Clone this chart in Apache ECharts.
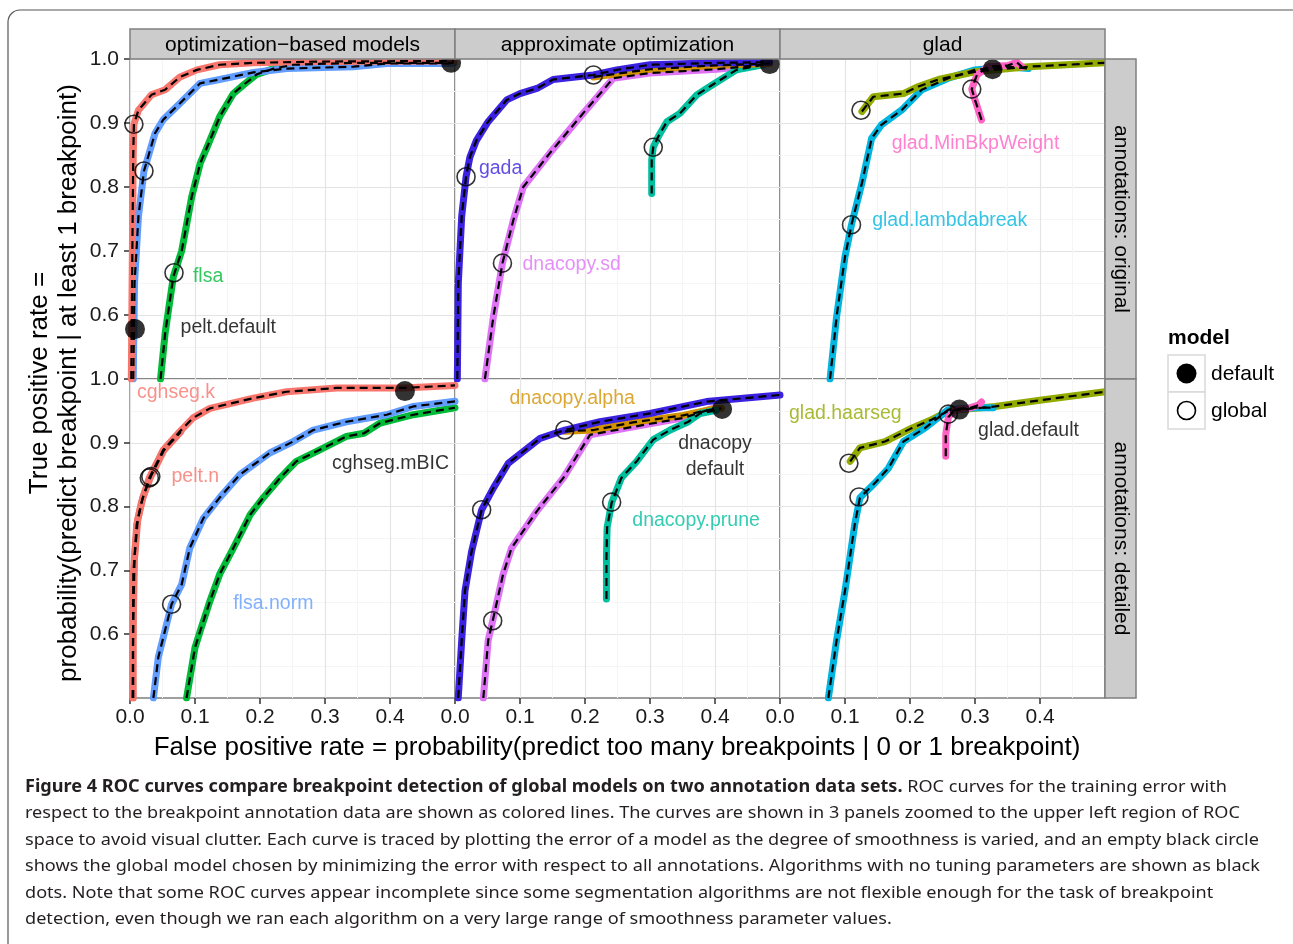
<!DOCTYPE html>
<html>
<head>
<meta charset="utf-8">
<script src="https://cdn.jsdelivr.net/npm/echarts@6/dist/echarts.min.js"></script>
<style>
html, body { margin: 0; padding: 0; background: #fff; }
#main { width: 1293px; height: 944px; }
</style>
</head>
<body>
<div id="main"></div>
<script>
var chart = echarts.init(document.getElementById('main'));

var colTitles = ['optimization\u2212based models', 'approximate optimization', 'glad'];
var rowTitles = ['annotations: original', 'annotations: detailed'];
var xTickValues = [0, 0.1, 0.2, 0.3, 0.4];
var yTickValues = [0.6, 0.7, 0.8, 0.9, 1.0];

// ---- annotations: original ----
var origCghsegK = [[0.002,0.50],[0.003,0.62],[0.004,0.74],[0.005,0.85],[0.006,0.898],[0.013,0.920],[0.033,0.944],[0.054,0.952],[0.077,0.972],[0.103,0.983],[0.138,0.991],[0.190,0.994],[0.292,0.996],[0.498,0.997]];
var origFlsaNorm = [[0.005,0.50],[0.007,0.65],[0.013,0.754],[0.0215,0.825],[0.0385,0.884],[0.051,0.905],[0.077,0.931],[0.108,0.962],[0.138,0.968],[0.190,0.979],[0.241,0.985],[0.344,0.988],[0.395,0.993],[0.495,0.993]];
var origFlsa = [[0.047,0.50],[0.054,0.571],[0.0667,0.660],[0.0795,0.70],[0.095,0.785],[0.108,0.837],[0.121,0.868],[0.138,0.910],[0.159,0.946],[0.174,0.959],[0.195,0.976],[0.221,0.985],[0.251,0.991],[0.344,0.994],[0.498,0.994]];
var origGada = [[0.0036,0.50],[0.0051,0.65],[0.0103,0.754],[0.017,0.816],[0.023,0.847],[0.033,0.873],[0.051,0.902],[0.0795,0.936],[0.100,0.946],[0.126,0.954],[0.151,0.968],[0.213,0.975],[0.249,0.983],[0.300,0.991],[0.403,0.994],[0.484,0.995]];
var origDnacopyAlpha = [[0.213,0.972],[0.300,0.984],[0.400,0.990],[0.484,0.993]];
var origDnacopySd = [[0.046,0.50],[0.059,0.597],[0.073,0.681],[0.0897,0.748],[0.105,0.80],[0.146,0.853],[0.197,0.915],[0.2436,0.970],[0.300,0.978],[0.403,0.984],[0.474,0.991]];
var origDnacopyPrune = [[0.3026,0.790],[0.3026,0.842],[0.305,0.862],[0.3128,0.879],[0.326,0.902],[0.346,0.915],[0.372,0.944],[0.395,0.959],[0.433,0.983],[0.474,0.991]];
var origGladLambda = [[0.077,0.50],[0.087,0.597],[0.100,0.691],[0.110,0.741],[0.126,0.806],[0.141,0.876],[0.156,0.897],[0.187,0.920],[0.218,0.952],[0.259,0.970],[0.300,0.983],[0.351,0.988],[0.382,0.985]];
var origGladHaar = [[0.126,0.918],[0.1436,0.941],[0.190,0.946],[0.213,0.957],[0.2436,0.968],[0.300,0.980],[0.382,0.988],[0.500,0.994]];
var origGladMinBkp = [[0.310,0.905],[0.300,0.936],[0.295,0.953],[0.303,0.975],[0.320,0.988],[0.351,0.990],[0.364,0.995],[0.372,0.988]];

// ---- annotations: detailed ----
var detCghsegK = [[0.005,0.50],[0.0046,0.59],[0.0051,0.694],[0.0103,0.772],[0.018,0.808],[0.0297,0.845],[0.0513,0.889],[0.077,0.918],[0.097,0.939],[0.123,0.954],[0.190,0.970],[0.241,0.980],[0.318,0.986],[0.420,0.986],[0.500,0.990]];
var detPeltN = [[0.004,0.50],[0.005,0.62],[0.007,0.72],[0.012,0.78],[0.020,0.815],[0.032,0.847],[0.052,0.888],[0.078,0.917]];
var detFlsaNorm = [[0.036,0.50],[0.0436,0.564],[0.0564,0.616],[0.064,0.647],[0.0795,0.678],[0.092,0.735],[0.113,0.782],[0.138,0.814],[0.169,0.85],[0.215,0.884],[0.251,0.902],[0.282,0.920],[0.333,0.933],[0.395,0.944],[0.436,0.957],[0.500,0.965]];
var detFlsa = [[0.087,0.50],[0.100,0.579],[0.108,0.605],[0.123,0.652],[0.138,0.694],[0.159,0.735],[0.185,0.7875],[0.205,0.814],[0.231,0.845],[0.256,0.871],[0.292,0.889],[0.333,0.910],[0.360,0.915],[0.385,0.931],[0.436,0.944],[0.500,0.955]];
var detGada = [[0.005,0.50],[0.0103,0.59],[0.0154,0.668],[0.0256,0.73],[0.041,0.795],[0.059,0.829],[0.082,0.868],[0.131,0.907],[0.169,0.920],[0.223,0.933],[0.300,0.946],[0.387,0.9646],[0.500,0.975]];
var detDnacopyAlpha = [[0.169,0.918],[0.213,0.920],[0.274,0.932],[0.351,0.943],[0.398,0.953],[0.410,0.954]];
var detDnacopySd = [[0.0436,0.50],[0.051,0.59],[0.058,0.621],[0.074,0.694],[0.087,0.735],[0.126,0.793],[0.1667,0.845],[0.2077,0.9125],[0.274,0.925],[0.351,0.939],[0.397,0.954]];
var detDnacopyPrune = [[0.233,0.655],[0.233,0.72],[0.234,0.767],[0.241,0.806],[0.256,0.845],[0.2795,0.871],[0.305,0.905],[0.331,0.920],[0.359,0.933],[0.377,0.946],[0.402,0.951]];
var detGladLambda = [[0.0744,0.50],[0.087,0.59],[0.100,0.668],[0.115,0.772],[0.123,0.814],[0.146,0.837],[0.1667,0.86],[0.190,0.902],[0.223,0.923],[0.249,0.944],[0.259,0.952],[0.300,0.955],[0.328,0.955]];
var detGladHaar = [[0.108,0.871],[0.123,0.892],[0.1615,0.902],[0.2026,0.923],[0.233,0.936],[0.259,0.950],[0.2795,0.952],[0.331,0.957],[0.4026,0.967],[0.500,0.980]];
var detGladMinBkp = [[0.255,0.879],[0.255,0.9125],[0.259,0.940],[0.269,0.952],[0.290,0.954],[0.305,0.959],[0.310,0.964]];

// global models (open circles) and default models (black dots), per panel
var globalPoints = [
  [[0.006,0.898],[0.0215,0.825],[0.0677,0.666]],
  [[0.017,0.816],[0.073,0.681],[0.213,0.975],[0.305,0.862]],
  [[0.110,0.741],[0.1246,0.920],[0.295,0.953]],
  [[0.0297,0.845],[0.032,0.847],[0.064,0.647]],
  [[0.041,0.795],[0.058,0.621],[0.169,0.920],[0.241,0.807]],
  [[0.106,0.868],[0.1215,0.815],[0.259,0.945]]
];
var defaultPoints = [
  [[0.0077,0.578],[0.494,0.994]],
  [[0.484,0.992]],
  [[0.327,0.984]],
  [[0.423,0.981]],
  [[0.411,0.953]],
  [[0.276,0.952]]
];

var colors = {
  cghseg: '#F8766D', pelt: '#F4756C', flsaNorm: '#619CFF', flsa: '#00BA38',
  gada: '#3A22E0', sd: '#DE74F5', alpha: '#D39200', prune: '#00BF9F',
  haar: '#93AA00', lambda: '#00B5E0', minbkp: '#FF62C4'
};

// [panel, data, colour]
var curves = [
  [0, origFlsa, colors.flsa], [0, origFlsaNorm, colors.flsaNorm], [0, origCghsegK, colors.cghseg],
  [1, origDnacopySd, colors.sd], [1, origDnacopyPrune, colors.prune], [1, origDnacopyAlpha, colors.alpha], [1, origGada, colors.gada],
  [2, origGladLambda, colors.lambda], [2, origGladHaar, colors.haar], [2, origGladMinBkp, colors.minbkp],
  [3, detFlsa, colors.flsa], [3, detFlsaNorm, colors.flsaNorm], [3, detCghsegK, colors.cghseg], [3, detPeltN, colors.pelt],
  [4, detDnacopySd, colors.sd], [4, detDnacopyAlpha, colors.alpha], [4, detDnacopyPrune, colors.prune], [4, detGada, colors.gada],
  [5, detGladHaar, colors.haar], [5, detGladLambda, colors.lambda], [5, detGladMinBkp, colors.minbkp]
];

// [panel, x, y, text, colour, align]
var curveLabels = [
  [0, 0.096, 0.660, 'flsa', colors.flsa, 'left'],
  [0, 0.077, 0.580, 'pelt.default', '#000', 'left'],
  [1, 0.036, 0.828, 'gada', colors.gada, 'left'],
  [1, 0.103, 0.678, 'dnacopy.sd', colors.sd, 'left'],
  [2, 0.171, 0.868, 'glad.MinBkpWeight', colors.minbkp, 'left'],
  [2, 0.141, 0.748, 'glad.lambdabreak', colors.lambda, 'left'],
  [3, 0.010, 0.978, 'cghseg.k', colors.cghseg, 'left'],
  [3, 0.063, 0.847, 'pelt.n', colors.cghseg, 'left'],
  [3, 0.310, 0.868, 'cghseg.mBIC', '#000', 'left'],
  [3, 0.158, 0.648, 'flsa.norm', colors.flsaNorm, 'left'],
  [4, 0.083, 0.969, 'dnacopy.alpha', colors.alpha, 'left'],
  [4, 0.400, 0.878, 'dnacopy\ndefault', '#000', 'center'],
  [4, 0.272, 0.778, 'dnacopy.prune', colors.prune, 'left'],
  [5, 0.013, 0.946, 'glad.haarseg', colors.haar, 'left'],
  [5, 0.304, 0.919, 'glad.default', '#000', 'left']
];

var FONT = 'Liberation Sans, Arial, Helvetica, sans-serif';
var LEFT = 130, PW = 325, TOP = 59, PH = [320, 319];

var grids = [], xAxes = [], yAxes = [], series = [];
for (var r = 0; r < 2; r++) {
  for (var c = 0; c < 3; c++) {
    var k = r * 3 + c;
    grids.push({
      left: LEFT + PW * c, top: r === 0 ? TOP : TOP + PH[0], width: PW, height: PH[r],
      show: true, backgroundColor: '#fff', borderColor: '#7f7f7f', borderWidth: 1.5
    });
    xAxes.push({
      type: 'value', gridIndex: k, min: 0, max: 0.5, interval: 0.1,
      axisLine: { show: false },
      axisTick: { show: r === 1, length: 6, customValues: xTickValues, lineStyle: { color: '#333', width: 1.5 } },
      axisLabel: {
        show: r === 1, customValues: xTickValues, margin: 9, fontSize: 21, fontFamily: FONT, color: '#1a1a1a',
        formatter: function (v) { return v > 0.45 ? '' : v.toFixed(1); }
      },
      splitLine: { lineStyle: { color: '#e4e4e4', width: 1.2 } },
      minorTick: { show: false, splitNumber: 2 },
      minorSplitLine: { show: true, lineStyle: { color: '#f5f5f5', width: 1 } }
    });
    yAxes.push({
      type: 'value', gridIndex: k, min: 0.5, max: 1, interval: 0.1,
      axisLine: { show: false },
      axisTick: { show: c === 0, length: 6, customValues: yTickValues, lineStyle: { color: '#333', width: 1.5 } },
      axisLabel: {
        show: c === 0, customValues: yTickValues, margin: 11, fontSize: 21, fontFamily: FONT, color: '#1a1a1a',
        formatter: function (v) { return v < 0.55 ? '' : v.toFixed(1); }
      },
      splitLine: { lineStyle: { color: '#e4e4e4', width: 1.2 } },
      minorTick: { show: false, splitNumber: 2 },
      minorSplitLine: { show: true, lineStyle: { color: '#f5f5f5', width: 1 } }
    });
  }
}

curves.forEach(function (cv) {
  series.push({
    type: 'line', xAxisIndex: cv[0], yAxisIndex: cv[0], data: cv[1], symbol: 'none', z: 2,
    lineStyle: { color: cv[2], width: 7, cap: 'round', join: 'round' }
  });
  series.push({
    type: 'line', xAxisIndex: cv[0], yAxisIndex: cv[0], data: cv[1], symbol: 'none', z: 3,
    lineStyle: { color: '#000', width: 2.2, type: [8, 5], join: 'round' }
  });
});

for (var p = 0; p < 6; p++) {
  series.push({
    name: 'global', type: 'scatter', xAxisIndex: p, yAxisIndex: p, data: globalPoints[p], z: 4,
    symbolSize: 18, itemStyle: { color: 'rgba(0,0,0,0)', borderColor: '#000', borderWidth: 1.6 }
  });
  series.push({
    name: 'default', type: 'scatter', xAxisIndex: p, yAxisIndex: p, data: defaultPoints[p], z: 4,
    symbolSize: 20, itemStyle: { color: '#000' }
  });
  var items = curveLabels.filter(function (l) { return l[0] === p; }).map(function (l) {
    return {
      value: [l[1], l[2]], name: l[3],
      label: {
        color: l[4], align: l[5],
        position: l[5] === 'center' ? 'inside' : 'right', distance: 0
      }
    };
  });
  series.push({
    type: 'scatter', xAxisIndex: p, yAxisIndex: p, data: items, z: 5, silent: true,
    symbolSize: 1, itemStyle: { color: 'rgba(0,0,0,0)' },
    label: { show: true, formatter: '{b}', fontSize: 19.5, fontFamily: FONT, lineHeight: 26 }
  });
}

function txt(x, y, text, opts) {
  opts = opts || {};
  return {
    type: 'text', x: x, y: y, rotation: opts.rotation || 0, scaleX: opts.scaleX || 1, z: 10,
    style: {
      text: text, x: 0, y: 0,
      font: opts.font || ('21px ' + FONT),
      fill: opts.fill || '#000',
      textAlign: opts.align || 'center', align: opts.align || 'center',
      textVerticalAlign: 'middle', verticalAlign: 'middle',
      lineHeight: opts.lineHeight, rich: opts.rich
    }
  };
}

var graphics = [];
// figure frame
graphics.push({ type: 'rect', shape: { x: 8, y: 10, width: 1330, height: 1000, r: 12 },
  style: { fill: 'none', stroke: '#555', lineWidth: 1.2 }, z: 1 });
// column strips
colTitles.forEach(function (t, i) {
  graphics.push({ type: 'rect', shape: { x: LEFT + PW * i, y: 29, width: PW, height: 30 },
    style: { fill: '#cccccc', stroke: '#7f7f7f', lineWidth: 1.5 }, z: 9 });
  graphics.push(txt(LEFT + PW * i + PW / 2, 45, t));
});
// row strips
rowTitles.forEach(function (t, i) {
  var y0 = i === 0 ? TOP : TOP + PH[0];
  graphics.push({ type: 'rect', shape: { x: LEFT + PW * 3, y: y0, width: 31, height: PH[i] },
    style: { fill: '#cccccc', stroke: '#7f7f7f', lineWidth: 1.5 }, z: 9 });
  graphics.push(txt(LEFT + PW * 3 + 16, y0 + PH[i] / 2, t, { rotation: -Math.PI / 2 }));
});
// axis titles
graphics.push(txt(617, 748, 'False positive rate = probability(predict too many breakpoints | 0 or 1 breakpoint)', { font: '26px ' + FONT }));
graphics.push(txt(54, 383, 'True positive rate =\nprobability(predict breakpoint | at least 1 breakpoint)', { font: '26px ' + FONT, rotation: Math.PI / 2, lineHeight: 29 }));
// legend
graphics.push(txt(1168, 338, 'model', { font: 'bold 21px ' + FONT, align: 'left' }));
[['default', true], ['global', false]].forEach(function (e, i) {
  var y0 = 355 + 37 * i;
  graphics.push({ type: 'rect', shape: { x: 1168, y: y0, width: 37, height: 37 },
    style: { fill: '#fff', stroke: '#d9d9d9', lineWidth: 1.5 }, z: 9 });
  graphics.push({ type: 'circle', shape: { cx: 1186.5, cy: y0 + 18.5, r: e[1] ? 10 : 9 },
    style: e[1] ? { fill: '#000' } : { fill: 'none', stroke: '#000', lineWidth: 1.6 }, z: 10 });
  graphics.push(txt(1211, y0 + 19, e[0], { font: '21px ' + FONT, align: 'left' }));
});
// caption
var capFont = '17px "Noto Sans", sans-serif';
var capLines = [
  '{b|Figure 4 ROC curves compare breakpoint detection of global models on two annotation data sets.} ROC curves for the training error with',
  'respect to the breakpoint annotation data are shown as colored lines. The curves are shown in 3 panels zoomed to the upper left region of ROC',
  'space to avoid visual clutter. Each curve is traced by plotting the error of a model as the degree of smoothness is varied, and an empty black circle',
  'shows the global model chosen by minimizing the error with respect to all annotations. Algorithms with no tuning parameters are shown as black',
  'dots. Note that some ROC curves appear incomplete since some segmentation algorithms are not flexible enough for the task of breakpoint',
  'detection, even though we ran each algorithm on a very large range of smoothness parameter values.'
];
capLines.forEach(function (l, i) {
  graphics.push(txt(25, 787 + 26.5 * i, l, {
    font: capFont, align: 'left', fill: '#231f20', scaleX: 1.065,
    rich: { b: { fontWeight: 'bold', fontSize: 17, fontFamily: '"Noto Sans", sans-serif', fill: '#231f20' } }
  }));
});

var option = {
  animation: false,
  backgroundColor: '#fff',
  grid: grids,
  xAxis: xAxes,
  yAxis: yAxes,
  series: series,
  graphic: { elements: graphics }
};

chart.setOption(option);
</script>
</body>
</html>
